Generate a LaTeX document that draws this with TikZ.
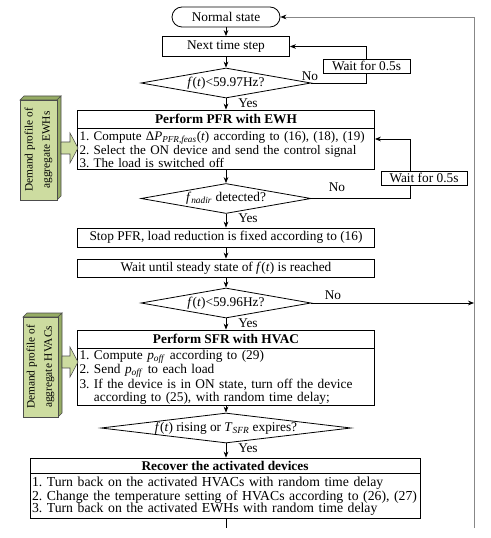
\documentclass[tikz,border=0pt]{standalone}
\usepackage{fontspec}
\setmainfont{Liberation Serif}
\usetikzlibrary{shapes.geometric,arrows.meta,calc}
\definecolor{gfront}{RGB}{205,220,160}
\definecolor{gside}{RGB}{150,172,100}
\definecolor{loopgray}{RGB}{135,135,135}
\newcommand{\iv}[1]{\textit{#1}}
\begin{document}
\frenchspacing
\begin{tikzpicture}[x=0.75pt,y=-0.75pt,
  every node/.style={font=\fontsize{10}{9.6}\selectfont, inner sep=0pt},
  proc/.style={draw, rectangle, line width=0.6pt},
  hdr/.style={proc, font=\fontsize{10}{10}\selectfont\bfseries},
  body/.style={draw, rectangle, line width=0.6pt, align=left, anchor=north, inner xsep=1.5pt, inner ysep=1pt, font=\fontsize{10}{9.4}\selectfont},
  dec/.style={draw, diamond, line width=0.6pt, minimum height=22.5pt},
  arr/.style={-{Stealth[length=4.5pt,width=3.5pt]}, line width=0.6pt},
  ln/.style={line width=0.6pt},
  lbl/.style={font=\fontsize{10}{10}\selectfont},
  gface/.style={draw=gray!60!black, fill=gside, line width=0.4pt},
  gbox/.style={draw=gray!60!black, fill=gfront, line width=0.4pt, rotate=90, align=center, font=\fontsize{8.5}{13}\selectfont},
]
\useasboundingbox (0,0) rectangle (490,538);

% main flow
\node[proc, rounded corners=7.5pt, minimum width=81pt, minimum height=15pt] (ns) at (226,17) {Normal state};
\node[proc, minimum width=95.25pt, minimum height=15pt] (nts) at (226,46.5) {Next time step};
\node[dec, aspect=5.67, minimum width=127.5pt] (d1) at (226,83) {\iv{f}(\iv{t})<59.97Hz?};
\node[proc, minimum width=65.25pt, minimum height=10.5pt] (w1) at (366.5,66) {Wait for 0.5s};

\node[hdr, minimum width=222.75pt, minimum height=13.5pt] (pfrh) at (226,119) {Perform PFR with EWH};
\node[body, text width=219.75pt, minimum height=30.75pt, font=\fontsize{9.8}{9.4}\selectfont] (pfrb) at (pfrh.south)
  {\mbox{1. Compute Δ\iv{P}\textsubscript{\iv{PFR,feas}}(\iv{t}) according to (16), (18), (19)}\\
   \mbox{2. Select the ON device and send the control signal}\\
   \mbox{3. The load is switched off}};
\node[proc, minimum width=64.5pt, minimum height=10.5pt] (w2) at (424,178) {Wait for 0.5s};
\node[dec, aspect=5.67, minimum width=127.5pt] (d2) at (226,198.5) {\iv{f}\textsubscript{\iv{nadir}} detected?};

\node[proc, minimum width=222.75pt, minimum height=14.25pt] (stop) at (226,237.5) {Stop PFR, load reduction is fixed according to (16)};
\node[proc, minimum width=222.75pt, minimum height=13.5pt] (wait) at (226,268) {Wait until steady state of \iv{f}(\iv{t}) is reached};
\node[dec, aspect=5.67, minimum width=127.5pt] (d3) at (226,303) {\iv{f}(\iv{t})<59.96Hz?};

\node[hdr, minimum width=222.75pt, minimum height=13.5pt] (sfrh) at (226,339) {Perform SFR with HVAC};
\node[body, text width=219.75pt, minimum height=40.5pt] (sfrb) at (sfrh.south)
  {\mbox{1. Compute \iv{p}\textsubscript{\iv{off}} according to (29)}\\
   \mbox{2. Send \iv{p}\textsubscript{\iv{off}} to each load}\\
   \mbox{3. If the device is in ON state, turn off the device}\\
   \mbox{\phantom{3. }according to (25), with random time delay;}};
\node[dec, aspect=8.33, minimum width=187.5pt] (d4) at (226,428) {\iv{f}(\iv{t}) rising or \iv{T}\textsubscript{\iv{SFR}} expires?};

\node[hdr, minimum width=292.5pt, minimum height=11.25pt] (rech) at (225,465.5) {Recover the activated devices};
\node[body, text width=289.5pt, minimum height=33.75pt, font=\fontsize{10.3}{9.4}\selectfont] (recb) at (rech.south)
  {\mbox{1. Turn back on the activated HVACs with random time delay}\\
   \mbox{2. Change the temperature setting of HVACs according to (26), (27)}\\
   \mbox{3. Turn back on the activated EWHs with random time delay}};

% labels
\node[lbl, anchor=west] (y1) at (238,103) {Yes};
\node[lbl, anchor=west] (y2) at (238,218) {Yes};
\node[lbl, anchor=west] (y3) at (238,323) {Yes};
\node[lbl, anchor=west] (y4) at (238,448) {Yes};
\node[lbl] (n1) at (310,76) {No};
\node[lbl] (n2) at (337,187) {No};
\node[lbl] (n3) at (333,295) {No};

% main arrows
\draw[arr] (ns) -- (nts);
\draw[arr] (nts) -- (d1);
\draw[arr] (d1) -- (pfrh);
\draw[arr] (pfrb) -- (d2);
\draw[arr] (d2) -- (stop);
\draw[arr] (stop) -- (wait);
\draw[arr] (wait) -- (d3);
\draw[arr] (d3) -- (sfrh);
\draw[arr] (sfrb) -- (d4);
\draw[arr] (d4) -- (rech.north -| d4.south);

% loop 1
\draw[ln] (d1.east) -| (w1.south);
\draw[arr] (w1.north) |- (nts.east);
% loop 2
\coordinate (c2) at (410,0);
\coordinate (t2) at (0,139);
\draw[ln] (d2.east) -| (c2 |- w2.south);
\draw[arr] (c2 |- w2.north) |- (pfrb.east |- t2);
% outer loop
\coordinate (rb) at (474,528);
\coordinate (bb) at (226,528);
\draw[ln] (recb.south -| bb) -- (bb);
\draw[ln, draw=loopgray, -{Stealth[length=4.5pt,width=3.5pt,color=black]}] (rb) |- (ns.east);
\draw[arr] (d3.east) -- (d3.east -| rb);

% demand profile boxes
\filldraw[gface] (20,100) -- (24,96) -- (61,96) -- (57,100) -- cycle;
\filldraw[gface] (57,100) -- (61,96) -- (61,196) -- (57,200) -- cycle;
\node[gbox, minimum width=75pt, minimum height=27.75pt] (gb1) at (38.5,150) {Demand profile of\\aggregate EWHs};
\filldraw[draw=gray!60!black, fill=gfront, line width=0.4pt]
  (61,142) -- (70,142) -- (70,133) -- (78,148) -- (70,163) -- (70,154) -- (61,154) -- cycle;

\filldraw[gface] (23,317) -- (27,313) -- (62,313) -- (58,317) -- cycle;
\filldraw[gface] (58,317) -- (62,313) -- (62,413) -- (58,417) -- cycle;
\node[gbox, minimum width=75pt, minimum height=26.25pt] (gb2) at (40.5,367) {Demand profile of\\aggregate HVACs};
\filldraw[draw=gray!60!black, fill=gfront, line width=0.4pt]
  (62,356) -- (70,356) -- (70,347) -- (78,362) -- (70,377) -- (70,368) -- (62,368) -- cycle;
\end{tikzpicture}
\end{document}
